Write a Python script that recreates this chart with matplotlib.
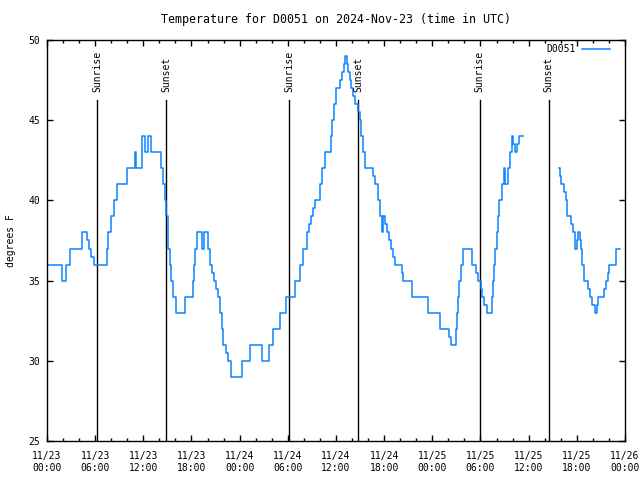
import numpy as np
import matplotlib
matplotlib.use("Agg")
from matplotlib import pyplot, ticker

pyplot.rcParams["font.family"] = "DejaVu Sans Mono"
pyplot.rcParams["font.size"] = 7

# hours since 2024-11-23 00:00 UTC, temperature in degrees F (nan = gap)
hours = [
    0.0, 1.87, 2.37, 2.86, 4.36, 4.98, 5.23, 5.48, 5.85, 7.47, 7.6, 7.97,
    8.34, 8.72, 9.96, 10.96, 11.08, 11.83, 12.2, 12.58, 12.95, 14.2, 14.45,
    14.7, 14.82, 15.07, 15.32, 15.44, 15.69, 16.06, 17.19, 18.18, 18.31,
    18.43, 18.68, 19.3, 19.55, 20.05, 20.3, 20.55, 20.8, 21.05, 21.3, 21.54,
    21.79, 21.92, 22.29, 22.54, 22.91, 24.28, 25.28, 26.77, 27.65, 28.14,
    29.0, 29.76, 30.88, 31.51, 31.88, 32.38, 32.63, 32.88, 33.12, 33.37,
    34.0, 34.25, 34.62, 35.37, 35.49, 35.74, 35.99, 36.49, 36.74, 36.99,
    37.11, 37.36, 37.49, 37.74, 37.86, 38.11, 38.36, 38.73, 38.98, 39.1,
    39.35, 39.6, 40.6, 40.85, 41.22, 41.47, 41.72, 41.84, 42.09, 42.34,
    42.59, 42.84, 43.09, 43.34, 44.21, 44.33, 45.45, 47.45, 48.94, 50.06,
    50.31, 50.93, 51.06, 51.18, 51.31, 51.56, 51.81, 52.93, 53.43, 53.68,
    54.05, 54.17, 54.42, 54.79, 55.42, 55.54, 55.67, 55.79, 56.04, 56.16,
    56.29, 56.66, 56.91, 57.04, 57.41, 57.66, 57.91, 58.04, 58.29, 58.54,
    58.79, 59.29,
    63.76, 63.88, 64.01, 64.38, 64.63, 64.76, 65.25, 65.5, 65.75, 66.0,
    66.12, 66.37, 66.5, 66.62, 66.87, 67.37, 67.62, 67.87, 68.24, 68.49,
    68.62, 69.36, 69.61, 69.86, 69.99, 70.86, 71.36,
]
temps = [
    36, 35, 36, 37, 38, 37.5, 37, 36.5, 36, 37, 38, 39,
    40, 41, 42, 43, 42, 44, 43, 44, 43, 42, 41,
    40, 39, 37, 36, 35, 34, 33, 34, 35, 36,
    37, 38, 37, 38, 37, 36, 35.5, 35, 34.5, 34, 33,
    32, 31, 30.5, 30, 29, 30, 31, 30, 31, 32,
    33, 34, 35, 36, 37, 38, 38.5, 39, 39.5, 40,
    41, 42, 43, 44, 45, 46, 47, 47.5, 48, 48.5,
    49, 48.5, 48, 47.5, 47, 46.5, 46, 45.5, 45, 44,
    43, 42, 41.5, 41, 40, 39, 38, 39, 38.5, 38,
    37.5, 37, 36.5, 36, 35.5, 35, 34, 33, 32, 31.5,
    31, 32, 33, 34, 35, 36, 37, 36, 35.5, 35,
    34.5, 34, 33.5, 33, 34, 35, 36, 37, 38, 39,
    40, 41, 42, 41, 42, 43, 44, 43.5, 43, 43.5,
    44, np.nan,
    42, 41.5, 41, 40.5, 40, 39, 38.5, 38, 37, 37.5,
    38, 37.5, 37, 36, 35, 34.5, 34, 33.5, 33, 33.5,
    34, 34.5, 35, 35.5, 36, 37, np.nan,
]

sun_hours = [6.23, 14.82, 30.14, 38.73, 53.92, 62.51]
sun_names = ["Sunrise", "Sunset", "Sunrise", "Sunset", "Sunrise", "Sunset"]

tick_hours = list(range(0, 73, 6))
tick_labels = [
    "11/23\n00:00", "11/23\n06:00", "11/23\n12:00", "11/23\n18:00",
    "11/24\n00:00", "11/24\n06:00", "11/24\n12:00", "11/24\n18:00",
    "11/25\n00:00", "11/25\n06:00", "11/25\n12:00", "11/25\n18:00",
    "11/26\n00:00",
]


def main():
    fig = pyplot.figure(figsize=(6.4, 4.8), dpi=100)
    ax = fig.add_axes([47 / 640, 39 / 480, 578 / 640, 401 / 480])

    for h, name in zip(sun_hours, sun_names):
        ax.plot([h, h], [25, 46.25], color="black", lw=1.0)
        ax.text(h, 46.75, name, rotation=90, ha="center", va="bottom")

    ax.plot(hours, temps, drawstyle="steps-post", color="#0a84ff", lw=1.1,
            label="D0051")

    ax.set_xlim(0, 72)
    ax.set_ylim(25, 50)
    ax.xaxis.set_major_locator(ticker.FixedLocator(tick_hours))
    ax.set_xticklabels(tick_labels)
    ax.xaxis.set_minor_locator(ticker.MultipleLocator(2))
    ax.yaxis.set_major_locator(ticker.MultipleLocator(5))
    ax.tick_params(which="both", direction="in", top=True, right=True,
                   width=1.0)
    ax.tick_params(which="major", length=4.5)
    ax.tick_params(which="minor", length=2.5)
    ax.tick_params(axis="x", pad=7.5)
    ax.tick_params(axis="y", pad=5)
    for s in ax.spines.values():
        s.set_linewidth(1.0)

    ax.set_ylabel("degrees F", labelpad=9)
    ax.set_title("Temperature for D0051 on 2024-Nov-23 (time in UTC)", pad=12)
    ax.legend(loc="upper right", bbox_to_anchor=(0.974, 0.99), frameon=False,
              markerfirst=False, handlelength=2.9, borderaxespad=0,
              borderpad=0, handletextpad=0.6)

    fig.savefig("out.png", dpi=100)


if __name__ == "__main__":
    main()
